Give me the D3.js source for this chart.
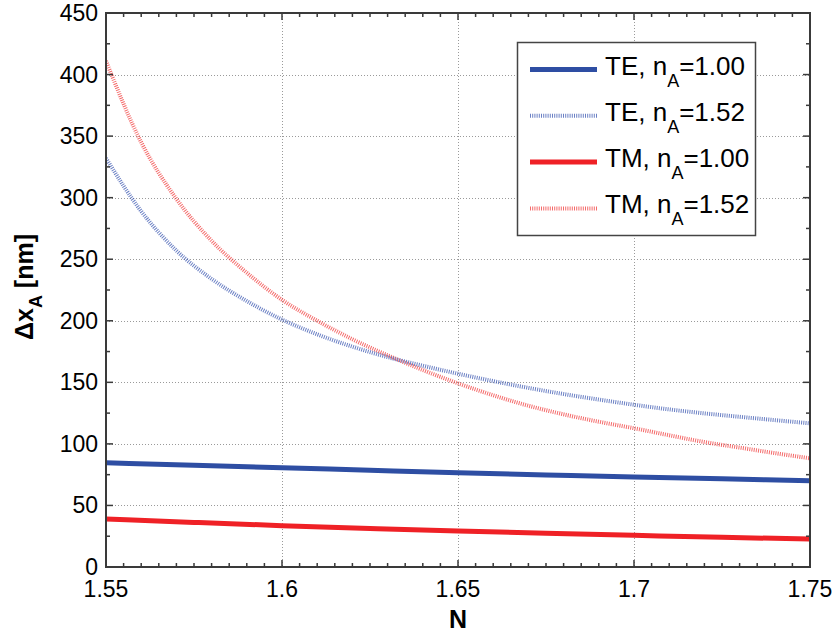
<!DOCTYPE html>
<html>
<head>
<meta charset="utf-8">
<script src="https://cdn.jsdelivr.net/npm/d3@7"></script>
<style>
  html, body { margin: 0; padding: 0; background: #fff; }
  svg { display: block; }
  text { font-family: "Liberation Sans", Arial, Helvetica, sans-serif; fill: #000; }
</style>
</head>
<body>
<svg id="chart" width="838" height="635"></svg>
<script>
// Refractive index N (x axis) sampling for the n_A = 1.52 curves
const nFine = [1.55, 1.56, 1.57, 1.58, 1.59, 1.60, 1.61, 1.62, 1.63, 1.64, 1.65,
               1.66, 1.67, 1.68, 1.69, 1.70, 1.71, 1.72, 1.73, 1.74, 1.75];
// Coarser sampling for the nearly straight n_A = 1.00 curves
const nCoarse = [1.55, 1.575, 1.60, 1.625, 1.65, 1.675, 1.70, 1.725, 1.75];

// Δx_A in nm
const teAir   = [84.7, 82.6, 80.7, 78.6, 76.6, 74.8, 73.1, 71.6, 70.1];
const tmAir   = [39.0, 36.2, 33.6, 31.3, 29.2, 27.4, 25.7, 24.1, 22.7];
const teGlass = [332, 289, 257, 234, 216, 201, 189, 179, 170.5, 163.5, 157,
                 151, 145.5, 140.5, 136, 131.8, 128, 124.8, 122, 119.3, 116.7];
const tmGlass = [411, 345, 299, 265, 239, 217, 200, 185, 172, 160, 149.2,
                 139.5, 131, 124, 118, 112.7, 107, 101.5, 97, 92.5, 88.3];

// Axis ticks
const xTicks = [1.55, 1.6, 1.65, 1.7, 1.75];
const xTickLabels = ["1.55", "1.6", "1.65", "1.7", "1.75"];
const yTicks = [0, 50, 100, 150, 200, 250, 300, 350, 400, 450];
const yTickLabels = ["0", "50", "100", "150", "200", "250", "300", "350", "400", "450"];

// Legend entries
const legendMain = ["TE, n", "TE, n", "TM, n", "TM, n"];
const legendSub = ["A", "A", "A", "A"];
const legendTail = ["=1.00", "=1.52", "=1.00", "=1.52"];

const margin = { left: 106, right: 28, top: 13, bottom: 68 };
const W = 838, H = 635;
const svg = d3.select("#chart");

const x = d3.scaleLinear().domain([1.55, 1.75]).range([margin.left, W - margin.right]);
const y = d3.scaleLinear().domain([0, 450]).range([H - margin.bottom, margin.top]);
const x0 = x.range()[0], x1 = x.range()[1];
const y0 = y.range()[0], y1 = y.range()[1];

// Grid lines at the major ticks
const grid = svg.append("g").attr("stroke", "#9a9a9a").attr("stroke-width", 1)
  .attr("stroke-dasharray", "1,2").attr("fill", "none");
xTicks.slice(1, -1).forEach(v => {
  grid.append("line").attr("x1", Math.round(x(v)) + 0.5).attr("x2", Math.round(x(v)) + 0.5)
    .attr("y1", y1).attr("y2", y0);
});
yTicks.slice(1, -1).forEach(v => {
  grid.append("line").attr("y1", Math.round(y(v)) + 0.5).attr("y2", Math.round(y(v)) + 0.5)
    .attr("x1", x0).attr("x2", x1);
});

// Curves
svg.append("clipPath").attr("id", "plotclip").append("rect")
  .attr("x", x0).attr("y", y1).attr("width", x1 - x0).attr("height", y0 - y1);
const curves = svg.append("g").attr("clip-path", "url(#plotclip)");
const line = d3.line().x(d => x(d[0])).y(d => y(d[1])).curve(d3.curveMonotoneX);

const series = [
  { xs: nFine,   ys: tmGlass, color: "#f03a3a", width: 4, dash: "1,1.2", opacity: 0.75 },
  { xs: nFine,   ys: teGlass, color: "#3a56b0", width: 4, dash: "1,1.2", opacity: 0.75 },
  { xs: nCoarse, ys: teAir,   color: "#2e4ea3", width: 5, dash: null,    opacity: 1 },
  { xs: nCoarse, ys: tmAir,   color: "#ef2126", width: 5, dash: null,    opacity: 1 }
];
series.forEach(s => {
  curves.append("path")
    .datum(s.xs.map((v, i) => [v, s.ys[i]]))
    .attr("d", line)
    .attr("fill", "none")
    .attr("stroke", s.color)
    .attr("stroke-width", s.width)
    .attr("stroke-opacity", s.opacity)
    .attr("stroke-dasharray", s.dash);
});

// Frame and ticks on all four sides (pointing inward)
const frameColor = "#3a3a3a";
const xMinor = d3.range(0, 41).map(i => 1.55 + i * 0.005).filter(v => !xTicks.some(t => Math.abs(t - v) < 1e-9));
const yMinor = d3.range(25, 450, 50);

const ticks = svg.append("g").attr("stroke", frameColor).attr("stroke-width", 1.5);
function vTicks(vals, len) {
  vals.forEach(v => {
    const px = x(v);
    ticks.append("line").attr("x1", px).attr("x2", px).attr("y1", y0).attr("y2", y0 - len);
    ticks.append("line").attr("x1", px).attr("x2", px).attr("y1", y1).attr("y2", y1 + len);
  });
}
function hTicks(vals, len) {
  vals.forEach(v => {
    const py = y(v);
    ticks.append("line").attr("y1", py).attr("y2", py).attr("x1", x0).attr("x2", x0 + len);
    ticks.append("line").attr("y1", py).attr("y2", py).attr("x1", x1).attr("x2", x1 - len);
  });
}
vTicks(xTicks, 7);
vTicks(xMinor, 4);
hTicks(yTicks, 7);
hTicks(yMinor, 4);

svg.append("rect").attr("x", x0).attr("y", y1).attr("width", x1 - x0).attr("height", y0 - y1)
  .attr("fill", "none").attr("stroke", frameColor).attr("stroke-width", 2);

// Tick labels
svg.append("g").selectAll("text").data(xTicks).join("text")
  .attr("x", d => x(d)).attr("y", y0 + 30)
  .attr("text-anchor", "middle").attr("font-size", 23)
  .text((d, i) => xTickLabels[i]);
svg.append("g").selectAll("text").data(yTicks).join("text")
  .attr("x", x0 - 8).attr("y", d => y(d) + 8)
  .attr("text-anchor", "end").attr("font-size", 23)
  .text((d, i) => yTickLabels[i]);

// Axis titles
svg.append("text").attr("x", x(1.65)).attr("y", 628)
  .attr("text-anchor", "middle").attr("font-size", 25).attr("font-weight", "bold").text("N");

const yTitle = svg.append("text")
  .attr("transform", `translate(33,${(y0 + y1) / 2 - 3}) rotate(-90)`)
  .attr("text-anchor", "middle").attr("font-size", 25).attr("font-weight", "bold");
yTitle.append("tspan").text("Δx");
yTitle.append("tspan").attr("dy", 9).attr("font-size", 18).text("A");
yTitle.append("tspan").attr("dy", -9).text(" [nm]");

// Legend
const lg = svg.append("g");
lg.append("rect").attr("x", 517.5).attr("y", 42.5).attr("width", 238).attr("height", 193)
  .attr("fill", "#fff").attr("stroke", "#444").attr("stroke-width", 1.5);
const legendStyles = [series[2], series[1], series[3], series[0]];
legendStyles.forEach((s, i) => {
  const cy = 69.5 + i * 46.3;
  lg.append("line").attr("x1", 530).attr("x2", 597).attr("y1", cy).attr("y2", cy)
    .attr("stroke", s.color).attr("stroke-width", s.width).attr("stroke-opacity", s.opacity)
    .attr("stroke-dasharray", s.dash);
  const t = lg.append("text").attr("x", 605).attr("y", cy + 5).attr("font-size", 26);
  t.append("tspan").text(legendMain[i]);
  t.append("tspan").attr("dy", 12).attr("font-size", 18).text(legendSub[i]);
  t.append("tspan").attr("dy", -12).text(legendTail[i]);
});
</script>
</body>
</html>
